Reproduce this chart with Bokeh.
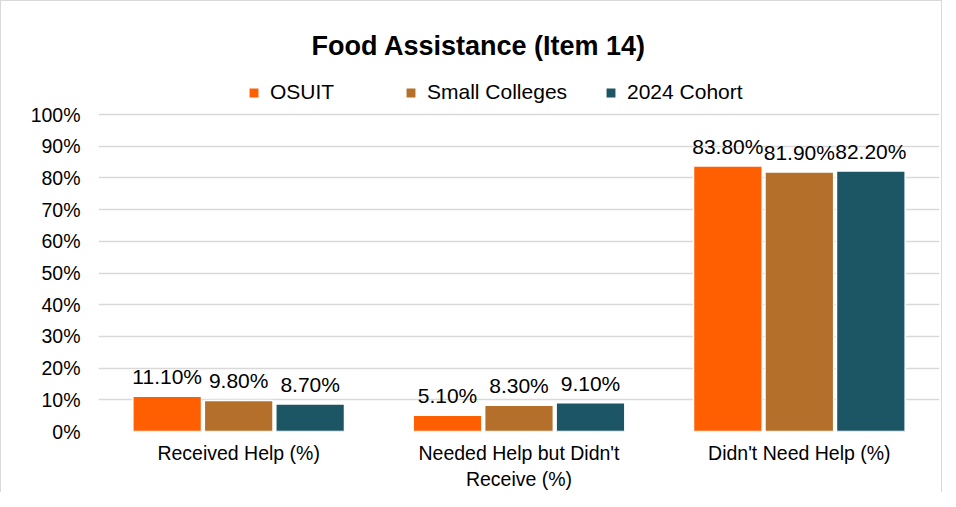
from bokeh.plotting import figure
from bokeh.models import ColumnDataSource, Legend, LegendItem, FixedTicker, Range1d
from bokeh.core.properties import value
from bokeh.embed import file_html
from bokeh.resources import INLINE

categories = ["Received Help (%)", "Needed Help but Didn't\nReceive (%)", "Didn't Need Help (%)"]
series_names = ["OSUIT", "Small Colleges", "2024 Cohort"]
osuit = [11.1, 5.1, 83.8]
small_colleges = [9.8, 8.3, 81.9]
cohort_2024 = [8.7, 9.1, 82.2]
y_ticks = [0, 10, 20, 30, 40, 50, 60, 70, 80, 90, 100]

colors = ["#FF5F00", "#B4702B", "#1C5563"]
offsets = [-0.255, 0.0, 0.255]
legend_x = [149, 306, 506]
series_values = [osuit, small_colleges, cohort_2024]
FONT = "Liberation Sans"

FRAME_H = 354
p = figure(frame_width=841, frame_height=FRAME_H, output_backend="svg", toolbar_location=None,
           x_range=Range1d(-0.5, 2.5), y_range=Range1d(0, 111.7),
           min_border_left=97, min_border_right=2, min_border_top=76, min_border_bottom=40)
p.styles = {"border-left": "1px solid #D9D9D9", "border-top": "1px solid #D9D9D9",
            "border-right": "1px solid #D9D9D9"}

p.title.text = "Food Assistance (Item 14)"
p.title.text_font = FONT
p.title.text_font_size = "27px"
p.title.text_font_style = "bold"
p.title.text_color = "#000000"
p.title.align = "left"
p.title.offset = 213
p.title.standoff = 33

for name, vals, col, off, lx in zip(series_names, series_values, colors, offsets, legend_x):
    xs = [i + off for i in range(len(categories))]
    src = ColumnDataSource(dict(x=xs, top=vals, lab=["%.2f%%" % v for v in vals]))
    r = p.vbar(x="x", top="top", width=0.245, source=src, fill_color=col,
               line_color="white", line_width=1.5)
    p.text(x="x", y="top", text="lab", source=src, text_align="center",
           text_baseline="bottom", y_offset=-8, text_font=value(FONT),
           text_font_size="21px", text_color="#000000")
    leg = Legend(items=[LegendItem(label=name, renderers=[r])],
                 orientation="horizontal", location=(lx, FRAME_H - 27),
                 border_line_color=None, background_fill_alpha=0,
                 label_text_font=FONT, label_text_font_size="21px",
                 label_text_color="#000000",
                 glyph_width=13, glyph_height=13, label_standoff=10,
                 spacing=0, padding=0, margin=0)
    p.add_layout(leg, "center")

p.xaxis.ticker = FixedTicker(ticks=list(range(len(categories))))
p.xaxis.major_label_overrides = {i: c for i, c in enumerate(categories)}
p.yaxis.ticker = FixedTicker(ticks=y_ticks)
p.yaxis.major_label_overrides = {t: "%d%%" % t for t in y_ticks}

for ax in (p.xaxis, p.yaxis):
    ax.axis_line_color = None
    ax.major_tick_line_color = None
    ax.minor_tick_line_color = None
    ax.major_tick_out = 0
    ax.major_label_text_font = FONT
    ax.major_label_text_font_size = "19.5px"
    ax.major_label_text_color = "#000000"
p.xaxis.major_label_standoff = 10
p.yaxis.major_label_standoff = 18

p.xgrid.grid_line_color = None
p.ygrid.ticker = FixedTicker(ticks=y_ticks)
p.ygrid.grid_line_color = "#D9D9D9"
p.ygrid.grid_line_width = 1.5
p.outline_line_color = None

open("out.html", "w").write(file_html(p, INLINE))
